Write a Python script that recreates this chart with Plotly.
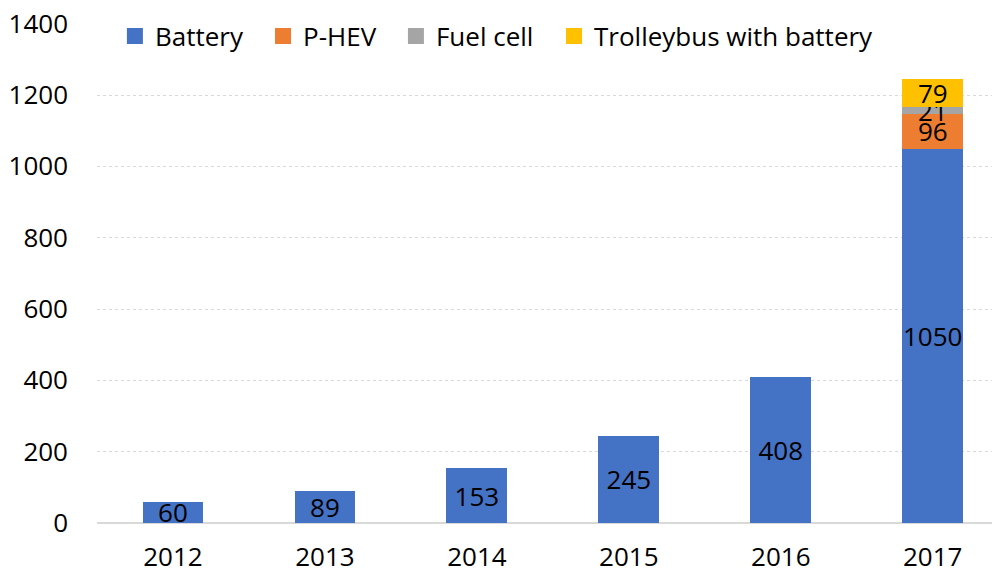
import plotly.graph_objects as go

# Electric bus registrations by drivetrain
years = ["2012", "2013", "2014", "2015", "2016", "2017"]
battery = [60, 89, 153, 245, 408, 1050]
p_hev = [None, None, None, None, None, 96]
fuel_cell = [None, None, None, None, None, 21]
trolleybus = [None, None, None, None, None, 79]
y_ticks = [0, 200, 400, 600, 800, 1000, 1200, 1400]

series = [
    ("Battery", battery, "#4472C4"),
    ("P-HEV", p_hev, "#ED7D31"),
    ("Fuel cell", fuel_cell, "#A5A5A5"),
    ("Trolleybus with battery", trolleybus, "#FFC000"),
]
# left edge of each legend entry, as a fraction of the plot width
legend_x = [0.020, 0.1855, 0.334, 0.5106]

FONT = "Open Sans"
SIZE = 26
fig = go.Figure()
for name, vals, color in series:
    fig.add_trace(go.Bar(
        x=years, y=vals, name=name,
        marker=dict(color=color, line=dict(width=0)),
        text=[str(v) if v is not None else "" for v in vals],
        textposition="inside",
        insidetextanchor="middle",
        textangle=0,
        textfont=dict(family=FONT, size=SIZE, color="black"),
        hoverinfo="skip",
        showlegend=False,
    ))

# square legend swatches, one legend per series so each can be placed
legend_layout = {}
for i, (name, _, color) in enumerate(series):
    key = "legend" if i == 0 else f"legend{i + 1}"
    fig.add_trace(go.Scatter(
        x=[None], y=[None], mode="markers", name=name,
        marker=dict(symbol="square", size=16, color=color),
        showlegend=True, legend=key, hoverinfo="skip",
    ))
    legend_layout[key] = dict(
        orientation="h",
        x=legend_x[i], y=0.974, xanchor="left", yanchor="middle",
        bgcolor="rgba(0,0,0,0)",
        font=dict(family=FONT, size=SIZE, color="black"),
        itemwidth=30,
    )

fig.update_layout(
    barmode="stack",
    bargap=0.6,
    width=992, height=574,
    margin=dict(l=97, r=0, t=23, b=51, autoexpand=False),
    paper_bgcolor="white",
    plot_bgcolor="white",
    font=dict(family=FONT, size=SIZE, color="black"),
    uniformtext=dict(minsize=SIZE, mode="show"),
    showlegend=True,
    xaxis=dict(
        type="category",
        range=[-0.5, 5.39],
        automargin=False,
        showgrid=False,
        showline=False,
        ticks="",
        ticklabelstandoff=16,
        tickfont=dict(family=FONT, size=SIZE, color="black"),
    ),
    yaxis=dict(
        range=[0, 1402],
        tickvals=y_ticks,
        automargin=False,
        showgrid=True,
        gridcolor="#D9D9D9",
        griddash="dot",
        gridwidth=1,
        zeroline=True,
        zerolinecolor="#D9D9D9",
        zerolinewidth=2,
        ticks="",
        ticklabelstandoff=28,
        tickfont=dict(family=FONT, size=SIZE, color="black"),
    ),
    # white band behind the legend row, above the grid and below the bars
    shapes=[dict(
        type="rect", xref="paper", yref="paper",
        x0=0, x1=0.9, y0=0.945, y1=1.01,
        fillcolor="white", line=dict(width=0), layer="between",
    )],
    **legend_layout,
)

fig.write_html("out.html")
